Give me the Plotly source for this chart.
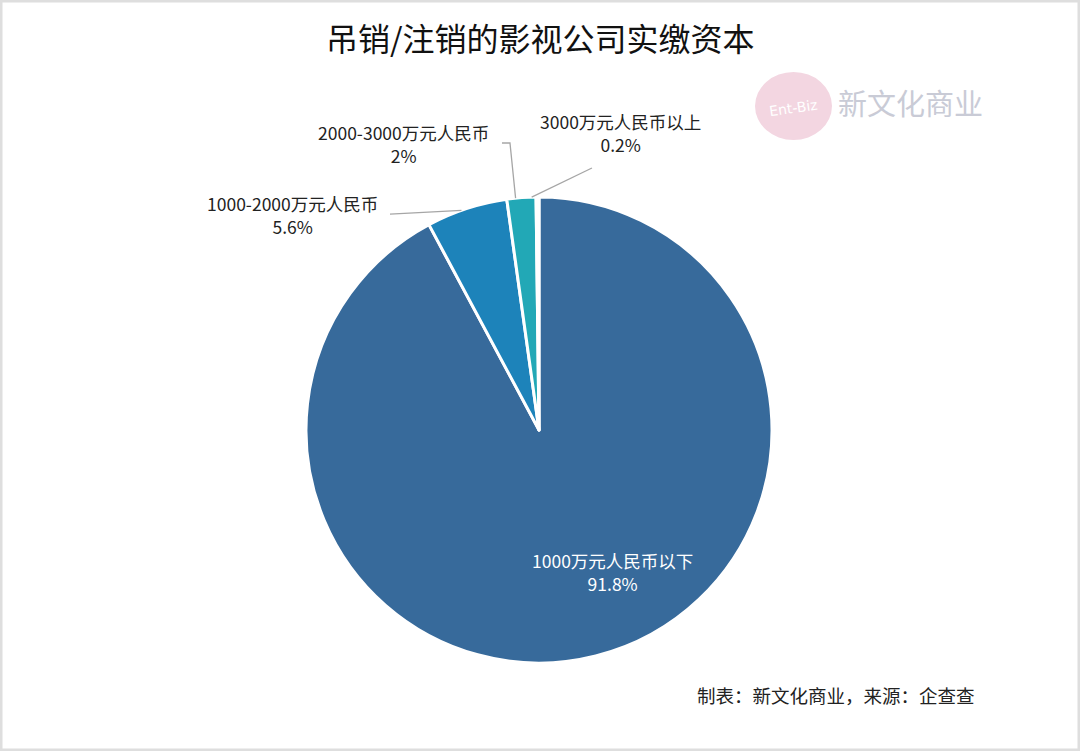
import math
import plotly.graph_objects as go

# paid-in capital of revoked/cancelled film & tv companies
labels = ['1000万元人民币以下', '1000-2000万元人民币', '2000-3000万元人民币', '3000万元人民币以上']
shares = [91.8, 5.6, 2, 0.2]
colors = ['#376a9b', '#1d83ba', '#22a8b6', '#6cc8cc']

W, H = 1080, 751
cx, cy, r = 539, 430, 233   # pie centre / radius in pixels


def px(x, y):
    return x / W, 1 - y / H


x0, y0 = px(cx - r, cy - r)
x1, y1 = px(cx + r, cy + r)

fig = go.Figure(go.Pie(
    labels=labels,
    values=shares,
    sort=False,
    direction='clockwise',
    rotation=0,
    textinfo='none',
    marker=dict(colors=colors, line=dict(color='white', width=3)),
    domain=dict(x=[x0, x1], y=[y1, y0]),
    showlegend=False,
    hoverinfo='label+value',
))

# label boxes (pixel centres) and leader-line elbows for the small slices
label_pos = [(612, 572), (292, 215), (403, 144), (620, 133)]
elbows = [None, [(390, 214)], [(510, 143), (502, 143)], [(592, 168)]]

cum = 0
for lab, val, (lx, ly), elb in zip(labels, shares, label_pos, elbows):
    mid = math.radians((cum + val / 2) / 100 * 360)
    cum += val
    fc = 'white' if elb is None else '#222222'
    ax, ay = px(lx, ly)
    fig.add_annotation(text=f'{lab}<br>{val}%', x=ax, y=ay, xref='paper', yref='paper',
                       xanchor='center', yanchor='middle', showarrow=False,
                       font=dict(size=17.5, color=fc))
    if elb is None:
        continue
    pts = [(cx + r * math.sin(mid), cy - r * math.cos(mid))] + elb
    path = 'M ' + ' L '.join(f'{px(a, b)[0]:.4f},{px(a, b)[1]:.4f}' for a, b in pts)
    fig.add_shape(type='path', path=path, xref='paper', yref='paper',
                  line=dict(color='#a6a6a6', width=1.3))

fig.add_annotation(text='吊销/注销的影视公司实缴资本', x=0.5, y=1 - 37 / H, xref='paper', yref='paper',
                   yanchor='middle', showarrow=False, font=dict(size=32, color='#111111'))
fig.add_annotation(text='制表：新文化商业，来源：企查查', x=977 / W, y=1 - 695 / H, xref='paper', yref='paper',
                   xanchor='right', yanchor='middle', showarrow=False, font=dict(size=18.5, color='#222222'))

# faint watermark
fig.add_shape(type='circle', xref='paper', yref='paper', x0=755 / W, x1=832 / W,
              y0=1 - 140 / H, y1=1 - 72 / H, fillcolor='#f3d6e1', line=dict(width=0), layer='below')
fig.add_annotation(text='Ent-Biz', x=793 / W, y=1 - 108 / H, xref='paper', yref='paper',
                   xanchor='center', yanchor='middle', showarrow=False, textangle=-8,
                   font=dict(size=14, color='#ffffff', family='DejaVu Sans'))
fig.add_annotation(text='新文化商业', x=985 / W, y=1 - 102 / H, xref='paper', yref='paper',
                   xanchor='right', yanchor='middle', showarrow=False, font=dict(size=29, color='#c9cbd6'))

# light grey frame around the picture
fig.add_shape(type='rect', xref='paper', yref='paper', x0=0, y0=0, x1=1, y1=1,
              line=dict(color='#dedede', width=5))

fig.update_layout(
    width=W, height=H,
    margin=dict(l=0, r=0, t=0, b=0),
    paper_bgcolor='white',
    font=dict(family='Noto Sans CJK SC, Open Sans, sans-serif'),
)

fig.write_html('out.html', config={'displayModeBar': False},
               post_script="document.body.style.margin='0';")
